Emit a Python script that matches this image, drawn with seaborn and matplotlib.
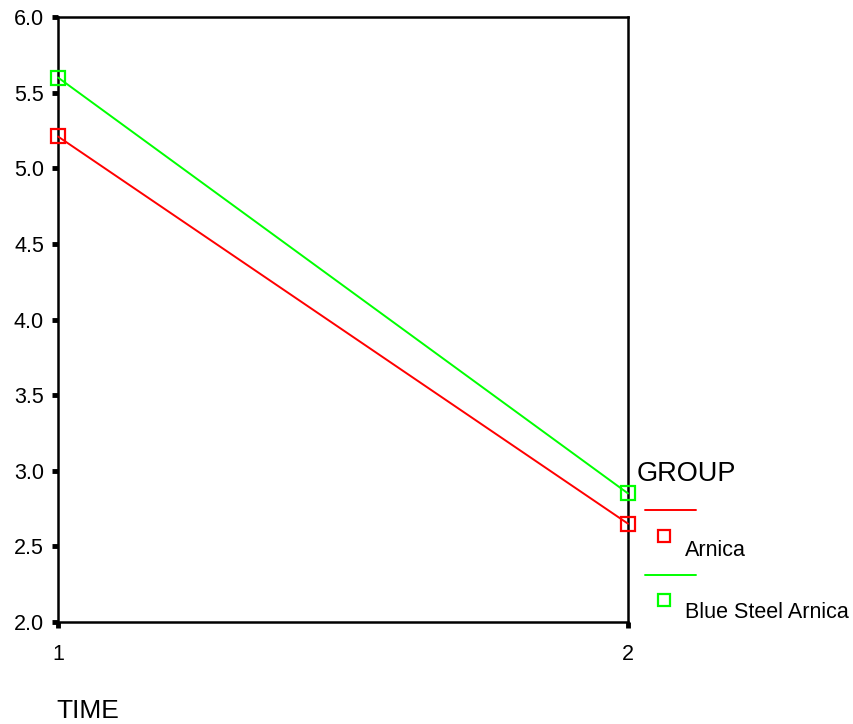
import numpy as np
import pandas as pd
import seaborn as sns
import matplotlib.pyplot as plt
from matplotlib.lines import Line2D

# data
time_points = [1, 2]
arnica = [5.21, 2.65]
blue_steel = [5.60, 2.85]
groups = ["Arnica", "Blue Steel Arnica"]
colors = {"Arnica": "#ff0000", "Blue Steel Arnica": "#00ff00"}
y_ticks = [2.0, 2.5, 3.0, 3.5, 4.0, 4.5, 5.0, 5.5, 6.0]

df = pd.DataFrame({
    "TIME": time_points * 2,
    "value": arnica + blue_steel,
    "GROUP": [groups[0]] * 2 + [groups[1]] * 2,
})

sns.set_style("white")
plt.rcParams["font.family"] = ["Liberation Sans", "DejaVu Sans"]
plt.rcParams["text.color"] = "black"
plt.rcParams["xtick.color"] = "black"
plt.rcParams["ytick.color"] = "black"

W, H = 854, 724
fig = plt.figure(figsize=(W / 100, H / 100), dpi=100)
ax = fig.add_axes([58 / W, 1 - 622 / H, (628 - 58) / W, (622 - 17) / H])

sns.lineplot(data=df, x="TIME", y="value", hue="GROUP", palette=colors,
             marker="s", markersize=9.5, markerfacecolor="none",
             linewidth=1.4, legend=False, ax=ax)
for ln in ax.lines:
    ln.set_markeredgecolor(ln.get_color())
    ln.set_markeredgewidth(1.6)
    ln.set_clip_on(False)
    ln.set_zorder(5)

ax.set_xlim(1, 2)
ax.set_ylim(2.0, 6.0)
ax.set_xticks(time_points)
ax.set_xticklabels([str(t) for t in time_points])
ax.set_yticks(y_ticks)
ax.set_yticklabels(["%.1f" % v for v in y_ticks])
ax.set_xlabel("")
ax.set_ylabel("")
for s in ax.spines.values():
    s.set_color("black")
    s.set_linewidth(1.8)
ax.tick_params(axis="y", direction="out", length=4, width=3.5, pad=6,
               labelsize=15.5, labelcolor="black", left=True)
ax.tick_params(axis="x", direction="out", length=4, width=3.5, pad=12,
               labelsize=15.5, labelcolor="black", bottom=True)


def fx(x):
    return x / W


def fy(y):
    return 1 - y / H


# SPSS-style legend to the right of the plot
fig.text(fx(637), fy(474), "GROUP", fontsize=19.5, va="center", ha="left")
entries = [(groups[0], 510, 536, 550), (groups[1], 575, 600, 613)]
for name, ly, my, ty in entries:
    c = colors[name]
    fig.add_artist(Line2D([fx(645), fx(696)], [fy(ly), fy(ly)], color=c,
                          linewidth=1.4, transform=fig.transFigure))
    fig.add_artist(Line2D([fx(664)], [fy(my)], marker="s", markersize=9,
                          markerfacecolor="none", markeredgecolor=c,
                          markeredgewidth=1.6, linestyle="none",
                          transform=fig.transFigure))
    fig.text(fx(685), fy(ty), name, fontsize=15.5, va="center", ha="left")

fig.text(fx(56), fy(711), "TIME", fontsize=19, va="center", ha="left")

fig.savefig("out.png", dpi=100)
